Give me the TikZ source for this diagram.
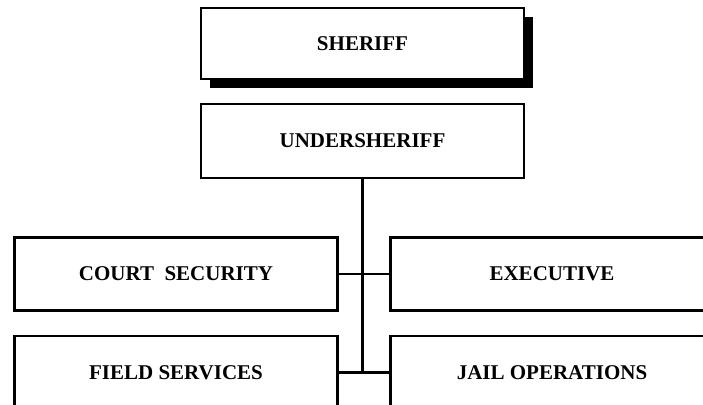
\documentclass[tikz,border=0pt]{standalone}
\usepackage{fontspec}
\setmainfont{Liberation Serif}
\usepackage{tikz}
\usetikzlibrary{shadows}
\definecolor{ChartLine}{HTML}{000000}
\tikzset{
  unitbox/.style={draw=ChartLine, line width=2.4pt, fill=white,
    minimum width=323pt, minimum height=73pt, inner sep=0pt,
    font=\bfseries\fontsize{21}{25}\selectfont},
  chartline/.style={ChartLine, line width=2.4pt}
}

\begin{document}
\begin{tikzpicture}[x=1pt, y=-1pt]
    % Frame
    \useasboundingbox (0,0) rectangle (703,404);
    \clip (0,0) rectangle (703,404);
    % Command
    \node[unitbox, minimum height=71pt, drop shadow={shadow xshift=9pt,
    shadow yshift=-9pt, opacity=1, fill=ChartLine}] (sheriff) at (362.5,43.5)
    {SHERIFF};
    \node[unitbox, minimum height=74pt] (undersheriff) at (362.5,141)
    {UNDERSHERIFF};
    % Divisions
    \node[unitbox] (court) at (176,274) {COURT\ \ SECURITY};
    \node[unitbox] (executive) at (552,274) {EXECUTIVE};
    \node[unitbox] (field) at (176,372.5) {FIELD SERVICES};
    \node[unitbox] (jail) at (552,372.5) {JAIL OPERATIONS};
    % Lines
    \coordinate (trunk) at (362.5,372.5);
    \draw[chartline] (undersheriff.south) -- (trunk);
    \draw[chartline] (court.east) -- (executive.west);
    \draw[chartline] (field.east) -- (jail.west);
  \end{tikzpicture}
\end{document}
